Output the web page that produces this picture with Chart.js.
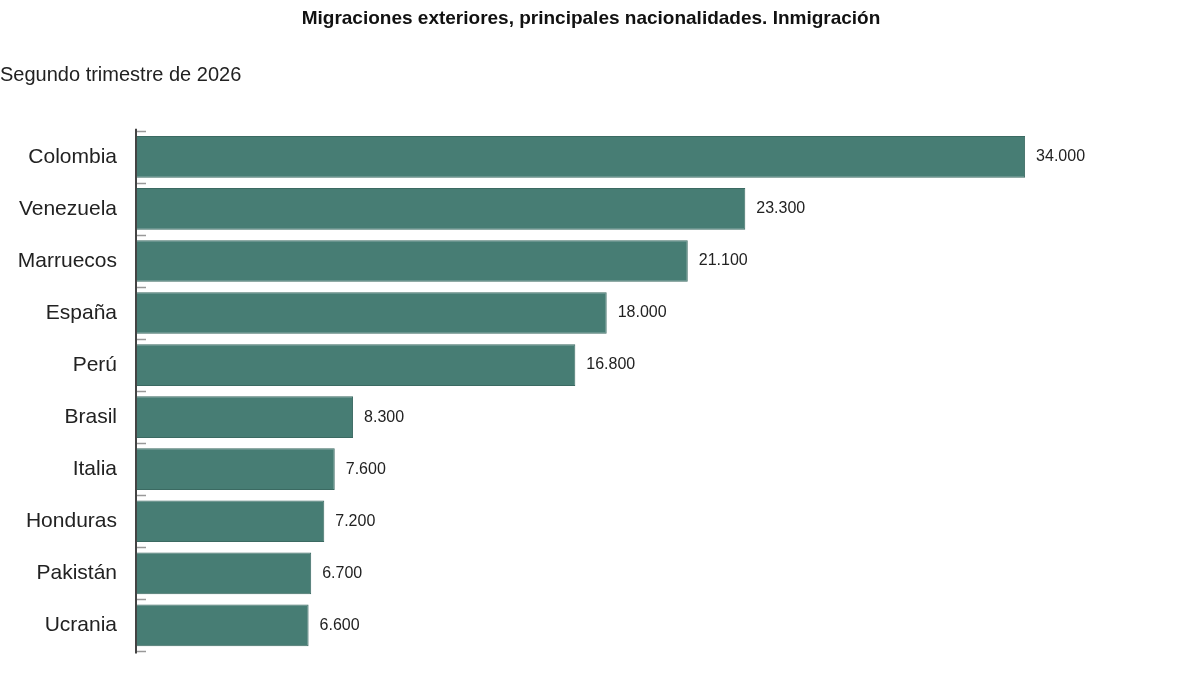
<!DOCTYPE html>
<html>
<head>
<meta charset="utf-8">
<script src="https://cdn.jsdelivr.net/npm/chart.js@4.4.0/dist/chart.umd.min.js"></script>
<style>
  html, body { margin: 0; padding: 0; background: #fff; }
  #wrap { width: 1200px; height: 675px; }
</style>
</head>
<body>
<div id="wrap"><canvas id="chart"></canvas></div>
<script>
const paises = ['Colombia', 'Venezuela', 'Marruecos', 'España', 'Perú', 'Brasil', 'Italia', 'Honduras', 'Pakistán', 'Ucrania'];
const inmigrantes = [34000, 23300, 21100, 18000, 16800, 8300, 7600, 7200, 6700, 6600];

const fmt = v => v.toLocaleString('es-ES', { useGrouping: 'always' }).replace(/\s/g, '.');

// etiquetas al final de cada barra y marcas del eje
const extras = {
    id: 'extras',
    afterDatasetsDraw(chart) {
        const c = chart.ctx;
        const y = chart.scales.y;
        const left = chart.chartArea.left;
        c.save();
        c.strokeStyle = '#999';
        c.lineWidth = 1.5;
        for (let i = 0; i <= paises.length; i++) {
            const py = Math.round(y.getPixelForValue(i - 0.5)) + 0.5;
            c.beginPath(); c.moveTo(left, py); c.lineTo(left + 10, py); c.stroke();
        }
        c.strokeStyle = '#444';
        c.lineWidth = 2;
        c.beginPath(); c.moveTo(left, chart.chartArea.top - 2); c.lineTo(left, chart.chartArea.bottom + 2); c.stroke();
        c.fillStyle = '#222';
        c.font = '16px "Liberation Sans", Arial, sans-serif';
        c.textBaseline = 'middle';
        chart.getDatasetMeta(0).data.forEach((bar, i) => {
            c.fillText(fmt(inmigrantes[i]), bar.x + 11, bar.y);
        });
        c.restore();
    }
};

new Chart(document.getElementById('chart'), {
    type: 'bar',
    data: {
        labels: paises,
        datasets: [{
            data: inmigrantes,
            backgroundColor: '#477d74',
            borderColor: '#3b6a62',
            borderWidth: 1,
            barPercentage: 0.8,
            categoryPercentage: 1
        }]
    },
    options: {
        indexAxis: 'y',
        responsive: true,
        maintainAspectRatio: false,
        animation: false,
        layout: { padding: { left: 0, right: 18, top: 0, bottom: 4 } },
        plugins: {
            legend: { display: false },
            tooltip: { enabled: false },
            title: {
                display: true,
                text: 'Migraciones exteriores, principales nacionalidades. Inmigración',
                color: '#111',
                font: { family: '"Liberation Sans", Arial, sans-serif', size: 19, weight: 'bold' },
                padding: { top: 7, bottom: 34 }
            },
            subtitle: {
                display: true,
                text: 'Segundo trimestre de 2026',
                align: 'start',
                color: '#222',
                font: { family: '"Liberation Sans", Arial, sans-serif', size: 20 },
                padding: { top: 0, bottom: 43 }
            }
        },
        scales: {
            x: { display: false, min: 0, max: 40000 },
            y: {
                grid: { display: false },
                border: { display: false },
                ticks: {
                    color: '#222',
                    padding: 11,
                    font: { family: '"Liberation Sans", Arial, sans-serif', size: 21 }
                },
                afterFit(scale) { scale.width = 136; }
            }
        }
    },
    plugins: [extras]
});
</script>
</body>
</html>
